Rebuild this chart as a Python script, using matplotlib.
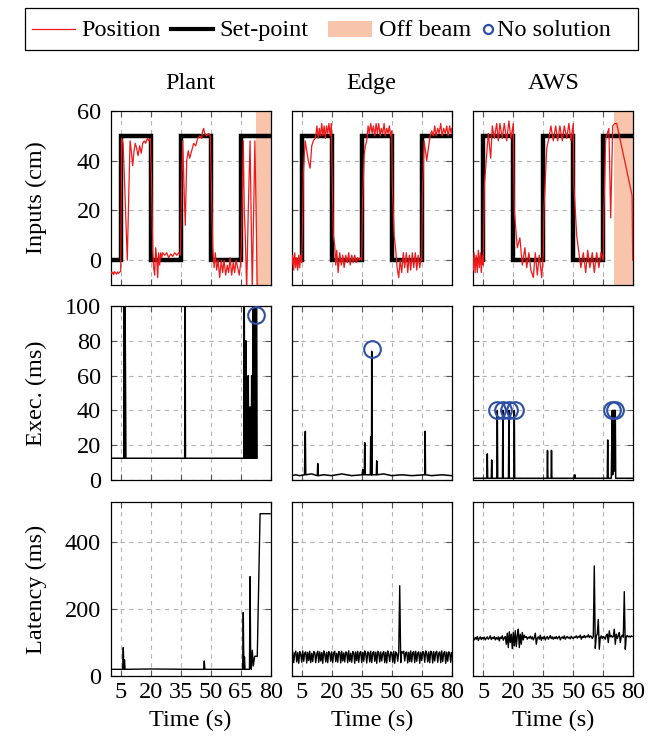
import numpy as np
import matplotlib
matplotlib.use("Agg")
import matplotlib.pyplot as plt
from matplotlib.lines import Line2D
from matplotlib.patches import Rectangle

plt.rcParams["font.family"] = "serif"
plt.rcParams["font.serif"] = ["Liberation Serif", "DejaVu Serif"]
FS = 17.5
plt.rcParams["font.size"] = FS

RED = "#f01818"
SHADE = "#f8c4ac"
BLUE = "#2c4fa3"

# ---- set-point (same for all three) ----
sp_t = [0, 5, 20, 35, 50, 65, 80]
sp_v = [0, 50, 0, 50, 0, 50, 50]

# ---- position traces (cm) ----
plant_pos_t = [0, 0.5, 1, 1.5, 2, 2.5, 3, 3.5, 4, 4.5, 5,
               5.5, 6.2, 7, 8.3, 9, 9.7, 10.3, 11, 11.7, 12.3, 13, 13.7, 14.5, 15.3, 16, 16.8, 17.5, 18.3, 19, 19.8,
               20.5, 21, 21.5, 22, 22.5, 23, 23.5, 24, 24.5, 25, 25.5, 26, 27, 28, 29, 30, 31, 32, 33, 34, 34.8,
               35.5, 36, 36.8, 37.3, 38, 38.8, 39.5, 40.5, 41.5, 42.5, 43.5, 44.5, 45.5, 46, 46.5, 47, 48, 49, 49.8,
               50.5, 51, 51.7, 52.3, 53, 53.7, 54.5, 55.3, 56, 56.7, 57.5, 58.3, 59, 59.7, 60.5, 61.3, 62, 62.7, 63.5, 64.3, 65,
               65.5, 66.3, 66.8, 67.3, 68, 68.8, 69.7, 70.2, 70.8, 71.5, 72.1, 72.7, 73.3]
plant_pos_v = [-4.5, -5.5, -4.8, -5.8, -4.6, -5.2, -5.6, -4.7, -5.3, -4.8, -4.5,
               49, 47, 30, 0, 25, 48, 44, 38, 44, 47, 45, 42, 46, 43, 47, 48, 47, 49, 48, 49,
               30, 4, -3, -6, 5, 1, -7, 3, -2, 3, 1, 3, 2, 3, 1, 2.5, 1.5, 3, 2, 3, 2,
               30, 48, 26, 14, 40, 44, 41, 44, 47, 46, 49, 50, 49, 52, 53, 51, 50, 51, 50,
               25, 5, -3, 3, -4, 0, -7, 0, -5, 0, -6, -2, -5, 1, -6, -1, -5, 0, -3, -6, -1,
               10, 48, 20, 10, -12, 20, 48, 20, -12, 20, 48, 20, -12]

edge_pos_t = [0, 0.5, 1, 1.5, 2, 2.5, 3, 3.5, 4, 4.5, 5,
              5.3, 5.8, 6.7, 8.3, 9.2, 10, 10.8, 11.7, 12, 12.6, 13.2, 13.8, 14.4, 15, 15.6, 16.2, 16.8, 17.4, 18, 18.6, 19.2, 19.8,
              20.3, 20.8, 21.5, 22, 22.5, 23.2, 24, 24.8, 25.5, 26.2, 27, 27.8, 28.5, 29.2, 30, 30.8, 31.5, 32.3, 33, 33.8, 34.5, 35,
              35.3, 36.2, 36.8, 37.5, 38.2, 38.8, 39.5, 40.2, 40.8, 41.5, 42.2, 42.8, 43.5, 44.2, 44.8, 45.5, 46.2, 46.8, 47.5, 48.2, 48.8, 49.5, 50,
              50.3, 51.2, 52, 52.7, 53.5, 54.2, 55, 55.8, 56.5, 57.3, 58, 58.8, 59.5, 60.3, 61, 61.8, 62.5, 63.2, 64, 64.8, 65,
              65.3, 66.2, 67.5, 68.5, 69.2, 70, 70.8, 71.5, 72.2, 73, 73.7, 74.5, 75.2, 76, 76.7, 77.5, 78.2, 79, 79.7, 80]
edge_pos_v = [-2, 2, -4, 3, -3, 1, -4, 2, -3, 2, -1,
              10, 35, 48, 40, 37, 46, 48, 49, 50, 54, 49, 53, 50, 55, 50, 54, 49, 54, 51, 55, 50, 55,
              30, 10, 6, -2, 4, -5, 3, -2, 2, -3, 2, -1, 3, -2, 2, -1, 2, -1, 1, 0, 1, 0,
              20, 42, 46, 48, 54, 51, 55, 51, 54, 50, 55, 51, 55, 50, 53, 51, 55, 50, 53, 51, 54, 50, 52,
              30, 10, 4, -3, -7, 0, -5, 3, -3, 3, -5, 2, -4, 3, -3, 3, -4, 2, -3, 1, 0,
              25, 48, 40, 46, 50, 52, 50, 54, 50, 53, 51, 55, 50, 53, 51, 54, 50, 54, 51, 53]

aws_pos_t = [0, 0.4, 0.9, 1.4, 2, 2.5, 3, 3.5, 4, 4.5, 5,
             5.5, 7.5, 8.7, 9.5, 10.5, 11.7, 12.5, 13.3, 14.5, 15.5, 16.7, 17.8, 18.8, 20,
             20.5, 22, 23.3, 24.5, 25.8, 26.7, 27.8, 28.8, 30, 31, 32, 33, 34.2, 35,
             35.3, 36.7, 37.8, 38.8, 40, 41.2, 42.2, 43.3, 44.5, 45.5, 46.7, 47.8, 48.8, 50,
             50.3, 51.7, 52.8, 53.8, 55, 56.2, 57.2, 58.3, 59.5, 60.5, 61.7, 62.8, 63.8, 65,
             65.3, 66.2, 67.8, 68.7, 69.7, 70.8, 71.7, 79.4, 79.7]
aws_pos_v = [-4, 3, -5, 2, -5, 4, -3, 3, -5, 2, -2,
             30, 51, 41, 54, 49, 55, 48, 55, 49, 55, 48, 56, 49, 55,
             20, 5, 9, -2, 5, -3, 3, -4, -7, 3, -6, 2, -7, 3,
             20, 45, 49, 54, 48, 54, 48, 54, 48, 54, 49, 55, 48, 55,
             30, 10, 3, -3, 3, -5, 4, -3, 3, -5, 3, -3, 3, 0,
             20, 49, 53, 17, 54, 55, 55, 26, 0]

# off-beam intervals (s)
plant_off = (72.5, 80)
aws_off = (70.5, 80)

# ---- execution time (ms) ----
plant_exec_t = [0, 6.6, 6.8, 7.0, 7.2, 7.4, 7.6, 37.0, 37.2, 37.4,
                66.6, 66.8, 67.0, 67.4, 67.6, 67.8, 68.6, 68.8, 69.0, 69.5, 69.7, 69.9,
                70.3, 70.5, 70.7, 71.1, 71.3, 71.5, 72.0, 72.2, 72.4, 72.6, 72.8, 73.0, 73.2]
plant_exec_v = [12.5, 12.5, 100, 12.5, 100, 60, 12.5, 12.5, 100, 12.5,
                12.5, 100, 12.5, 12.5, 80, 12.5, 12.5, 60, 12.5, 12.5, 42, 12.5,
                12.5, 60, 12.5, 12.5, 100, 12.5, 12.5, 100, 50, 12.5, 100, 100, 12.5]

edge_exec_t = [0, 2, 4, 6.4, 6.6, 6.8, 7.0, 10, 12.8, 13.0, 13.2, 16, 20, 25, 30, 35.2, 35.5, 35.8,
               36.3, 36.5, 36.8, 39.3, 39.5, 39.7, 39.9, 40.0, 40.1, 42.3, 42.5, 42.7, 46, 50, 55, 60,
               66.5, 66.7, 66.9, 70, 75, 80]
edge_exec_v = [2.5, 3, 2.5, 3, 20, 28, 3, 3.5, 2.5, 9.5, 2.5, 3, 2.5, 3.5, 2.5, 3, 6, 3,
               3, 21.5, 3, 3, 25, 3, 3, 74, 3, 3, 11, 3, 3.5, 2.5, 3, 2.5,
               3, 28, 3, 2.5, 3, 2.5]

aws_exec_t = [0, 6.8, 7.0, 7.2, 9.0, 9.2, 9.4, 11.8, 12.0, 12.2, 14.6, 14.8, 15.0, 17.6, 17.8, 18.0,
              20.3, 20.5, 20.7, 36.9, 37.1, 37.3, 38.9, 39.1, 39.3, 50.6, 50.8, 51.0, 67.0, 67.2, 67.4,
              69.0, 69.5, 69.7, 70.0, 70.3, 70.5, 70.8, 71.0, 71.2, 80]
aws_exec_v = [1, 1, 15, 1, 1, 11.5, 1, 1, 40, 1, 1, 40, 1, 1, 40, 1,
              1, 40, 1, 1, 17, 1, 1, 17, 1, 1, 3, 1, 1, 23, 1,
              1, 40, 3, 40, 5, 40, 40, 40, 1, 1]

# no-solution markers (s, ms)
plant_nosol_t, plant_nosol_v = [72.5], [95]
edge_nosol_t, edge_nosol_v = [40], [75]
aws_nosol_t = [11.7, 14.7, 17.7, 20.8, 69.2, 71]
aws_nosol_v = [40, 40, 40, 40, 40, 40]

# ---- latency (ms) ----
plant_lat_t = [0, 6, 6.3, 6.6, 6.9, 7.2, 20, 40, 46.5, 46.8, 47.1, 60, 66, 66.3, 66.6, 66.9, 67.2,
               69.4, 69.7, 70, 70.3, 70.8, 71.3, 72, 73.3, 74.7, 79.7]
plant_lat_v = [20, 20, 85, 20, 49, 20, 21, 20, 20, 45, 20, 20, 20, 190, 20, 57, 20,
               20, 297, 50, 20, 77, 30, 59, 59, 485, 485]

# sampled every 0.5 s
edge_lat = [45, 72, 40, 68, 74, 42, 70, 38, 73, 66, 41, 75, 44, 69, 72, 39, 71, 46, 74, 40,
            68, 43, 73, 70, 40, 66, 74, 41, 72, 45, 70, 38, 75, 67, 42, 71, 40, 73, 69, 44,
            72, 40, 70, 74, 43, 68, 41, 73, 71, 39, 74, 45, 69, 42, 72, 70, 40, 75, 44, 68,
            41, 73, 70, 38, 72, 46, 74, 41, 69, 73, 40, 71, 44, 75, 67, 39, 72, 70, 42, 74,
            40, 69, 73, 44, 71, 38, 74, 70, 42, 72, 45, 68, 73, 40, 71, 39, 75, 66, 43, 72,
            70, 41, 74, 38, 72, 68, 44, 71, 270, 40, 73, 69, 74, 45, 70, 72, 39, 71, 43, 75,
            42, 70, 73, 40, 74, 44, 69, 72, 38, 71, 46, 73, 70, 41, 75, 68, 42, 72, 40, 74,
            71, 39, 73, 45, 70, 74, 41, 68, 72, 40, 75, 43, 69, 73, 38, 71, 44, 72, 70, 41, 70]
aws_lat = [112, 108, 115, 110, 118, 106, 113, 117, 109, 115, 111, 116, 108, 113, 117, 110, 114, 120, 109, 115,
           112, 118, 108, 115, 110, 117, 105, 116, 112, 120, 107, 114, 118, 95, 128, 85, 132, 100, 125, 82,
           130, 90, 135, 88, 120, 140, 85, 125, 95, 130, 108, 122, 115, 118, 110, 116, 113, 119, 111, 117,
           108, 115, 128, 95, 113, 117, 110, 122, 107, 116, 112, 119, 108, 114, 118, 110, 115, 121, 112, 117,
           110, 116, 112, 118, 111, 115, 119, 108, 114, 117, 112, 120, 110, 115, 118, 113, 116, 111, 119, 114,
           112, 117, 115, 120, 113, 118, 116, 122, 110, 118, 115, 121, 114, 119, 117, 123, 115, 120, 118, 112,
           118, 329, 82, 120, 125, 169, 80, 115, 120, 112, 118, 116, 110, 122, 125, 100, 135, 117, 121, 116,
           118, 140, 95, 125, 112, 120, 130, 100, 118, 122, 116, 252, 80, 118, 121, 117, 119, 116, 120, 118, 118]
lat_dt = 0.5

columns = ["Plant", "Edge", "AWS"]
xticks = [5, 20, 35, 50, 65, 80]

W, H = 648, 745
fig = plt.figure(figsize=(W / 100, H / 100), dpi=100)
lefts = [0.1708, 0.4502, 0.7304]
bottoms = [0.6174, 0.3557, 0.0926]
w, h = 0.2469, 0.2336
axes = [[fig.add_axes([l, b, w, h]) for l in lefts] for b in bottoms]


def style(ax):
    ax.set_xlim(0, 80)
    ax.set_xticks(xticks)
    ax.grid(True, color="#b4b4b4", linestyle=(0, (4, 4)), linewidth=0.8)
    ax.set_axisbelow(True)
    ax.tick_params(direction="in", top=True, right=True, length=4, color="#555555", labelsize=FS)
    ax.tick_params(axis="y", pad=7)
    ax.tick_params(axis="x", pad=4)
    for s in ax.spines.values():
        s.set_linewidth(0.9)


pos = [(plant_pos_t, plant_pos_v, plant_off), (edge_pos_t, edge_pos_v, None), (aws_pos_t, aws_pos_v, aws_off)]
execs = [(plant_exec_t, plant_exec_v, plant_nosol_t, plant_nosol_v),
         (edge_exec_t, edge_exec_v, edge_nosol_t, edge_nosol_v),
         (aws_exec_t, aws_exec_v, aws_nosol_t, aws_nosol_v)]

for j in range(3):
    ax = axes[0][j]
    t, v, off = pos[j]
    if off:
        ax.axvspan(off[0], off[1], color=SHADE, lw=0, zorder=1)
    ax.plot(t, v, color=RED, lw=0.9, zorder=3)
    ax.step(sp_t, sp_v, where="post", color="black", lw=3.2, zorder=2, solid_joinstyle="miter")
    ax.set_ylim(-10, 60)
    ax.set_yticks([0, 20, 40, 60])
    style(ax)
    ax.set_xticklabels([])
    ax.set_title(columns[j], fontsize=FS, pad=16)

    ax = axes[1][j]
    t, v, nt, nv = execs[j]
    ax.plot(t, v, color="black", lw=1.1)
    ax.plot(nt, nv, "o", mfc="none", mec=BLUE, ms=12, mew=1.5, zorder=4, clip_on=False)
    ax.set_ylim(0, 100)
    ax.set_yticks([0, 20, 40, 60, 80, 100])
    style(ax)
    ax.set_xticklabels([])

    ax = axes[2][j]
    if j == 0:
        ax.plot(plant_lat_t, plant_lat_v, color="black", lw=1.0)
    else:
        vals = edge_lat if j == 1 else aws_lat
        ax.plot(np.arange(len(vals)) * lat_dt, vals, color="black", lw=1.0)
    ax.set_ylim(0, 520)
    ax.set_yticks([0, 200, 400])
    style(ax)
    ax.set_xlabel("Time (s)", fontsize=FS, labelpad=5)

    if j > 0:
        for r in range(3):
            axes[r][j].set_yticklabels([])

axes[0][0].set_ylabel("Inputs (cm)", fontsize=FS)
axes[1][0].set_ylabel("Exec. (ms)", fontsize=FS)
axes[2][0].set_ylabel("Latency (ms)", fontsize=FS)
for r in range(3):
    axes[r][0].yaxis.set_label_coords(-0.40, 0.5)

# legend drawn by hand (pgfplots style: the marker-only entry is compact)
fx = lambda px: px / W
fy = lambda py: 1 - py / H
yc = fy(29)
yb = fy(36)
tf = fig.transFigure
fig.add_artist(Rectangle((fx(25), fy(50)), fx(613), 42 / H, transform=tf,
                         facecolor="white", edgecolor="black", lw=0.9))
fig.add_artist(Line2D([fx(32), fx(75)], [yc, yc], transform=tf, color=RED, lw=0.9))
fig.text(fx(81), yb, "Position", va="baseline", ha="left")
fig.add_artist(Line2D([fx(171), fx(213)], [yc, yc], transform=tf, color="black", lw=3))
fig.text(fx(219), yb, "Set-point", va="baseline", ha="left")
fig.add_artist(Rectangle((fx(328), fy(37)), fx(44), 16 / H, transform=tf,
                         facecolor=SHADE, edgecolor="none"))
fig.text(fx(379), yb, "Off beam", va="baseline", ha="left")
fig.add_artist(Line2D([fx(488)], [yc], transform=tf, marker="o", ls="none",
                      mfc="none", mec=BLUE, ms=6.5, mew=1.6))
fig.text(fx(497), yb, "No solution", va="baseline", ha="left")

fig.savefig("out.png", dpi=100)
